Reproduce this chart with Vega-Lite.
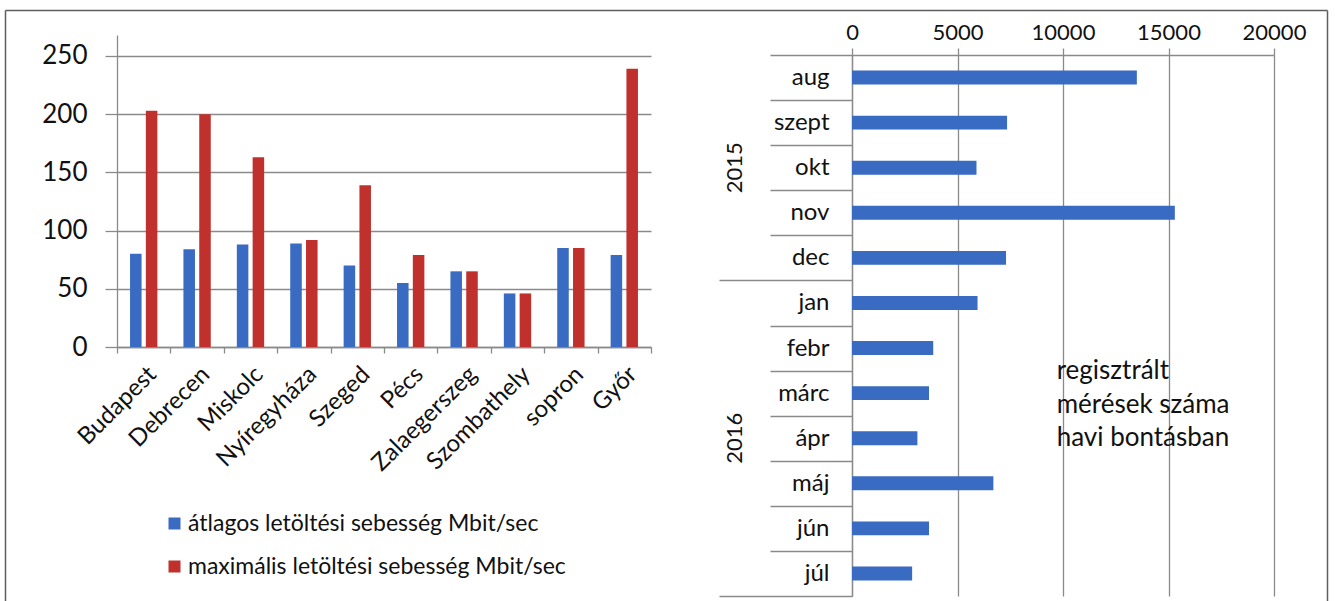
{
  "$schema": "https://vega.github.io/schema/vega-lite/v6.json",
  "background": "white",
  "padding": {"left": 5, "top": 10, "right": 5, "bottom": 4},
  "config": {
    "font": "Lato",
    "view": {"stroke": null},
    "axis": {
      "labelFont": "Lato",
      "labelColor": "#111111",
      "domainColor": "#8a8a8a",
      "tickColor": "#8a8a8a",
      "gridColor": "#8a8a8a",
      "gridOpacity": 1,
      "domainWidth": 1.3,
      "tickWidth": 1.3,
      "gridWidth": 1.3
    }
  },
  "datasets": {
    "speeds": [
      {"city": "Budapest", "series": "átlagos letöltési sebesség Mbit/sec", "value": 80},
      {"city": "Budapest", "series": "maximális letöltési sebesség Mbit/sec", "value": 203},
      {"city": "Debrecen", "series": "átlagos letöltési sebesség Mbit/sec", "value": 84},
      {"city": "Debrecen", "series": "maximális letöltési sebesség Mbit/sec", "value": 200},
      {"city": "Miskolc", "series": "átlagos letöltési sebesség Mbit/sec", "value": 88},
      {"city": "Miskolc", "series": "maximális letöltési sebesség Mbit/sec", "value": 163},
      {"city": "Nyíregyháza", "series": "átlagos letöltési sebesség Mbit/sec", "value": 89},
      {"city": "Nyíregyháza", "series": "maximális letöltési sebesség Mbit/sec", "value": 92},
      {"city": "Szeged", "series": "átlagos letöltési sebesség Mbit/sec", "value": 70},
      {"city": "Szeged", "series": "maximális letöltési sebesség Mbit/sec", "value": 139},
      {"city": "Pécs", "series": "átlagos letöltési sebesség Mbit/sec", "value": 55},
      {"city": "Pécs", "series": "maximális letöltési sebesség Mbit/sec", "value": 79},
      {"city": "Zalaegerszeg", "series": "átlagos letöltési sebesség Mbit/sec", "value": 65},
      {"city": "Zalaegerszeg", "series": "maximális letöltési sebesség Mbit/sec", "value": 65},
      {"city": "Szombathely", "series": "átlagos letöltési sebesség Mbit/sec", "value": 46},
      {"city": "Szombathely", "series": "maximális letöltési sebesség Mbit/sec", "value": 46},
      {"city": "sopron", "series": "átlagos letöltési sebesség Mbit/sec", "value": 85},
      {"city": "sopron", "series": "maximális letöltési sebesség Mbit/sec", "value": 85},
      {"city": "Győr", "series": "átlagos letöltési sebesség Mbit/sec", "value": 79},
      {"city": "Győr", "series": "maximális letöltési sebesség Mbit/sec", "value": 239}
    ],
    "monthly": [
      {"year": "2015", "month": "aug", "count": 13500},
      {"year": "2015", "month": "szept", "count": 7350},
      {"year": "2015", "month": "okt", "count": 5900},
      {"year": "2015", "month": "nov", "count": 15300},
      {"year": "2015", "month": "dec", "count": 7300},
      {"year": "2016", "month": "jan", "count": 5950},
      {"year": "2016", "month": "febr", "count": 3850},
      {"year": "2016", "month": "márc", "count": 3650},
      {"year": "2016", "month": "ápr", "count": 3100},
      {"year": "2016", "month": "máj", "count": 6700},
      {"year": "2016", "month": "jún", "count": 3650},
      {"year": "2016", "month": "júl", "count": 2850}
    ],
    "frame": [{"edge": 0}]
  },
  "bounds": "flush",
  "spacing": 201,
  "hconcat": [
    {
      "width": 534,
      "height": 292,
      "layer": [
        {
          "data": {"name": "speeds"},
          "mark": {"type": "bar"},
          "encoding": {
            "x": {
              "field": "city",
              "type": "nominal",
              "sort": null,
              "scale": {"paddingInner": 0, "paddingOuter": 0},
              "axis": {
                "title": null,
                "tickBand": "extent",
                "tickSize": 6,
                "labelAngle": -45,
                "labelFontSize": 24,
                "labelPadding": 9,
                "labelLimit": 0
              }
            },
            "xOffset": {
              "field": "series",
              "type": "nominal",
              "sort": null,
              "scale": {"paddingInner": 0.27, "paddingOuter": 0.825}
            },
            "y": {
              "field": "value",
              "type": "quantitative",
              "scale": {"domain": [0, 268], "range": [292, -20], "nice": false, "zero": true},
              "axis": {
                "title": null,
                "values": [0, 50, 100, 150, 200, 250],
                "grid": true,
                "tickSize": 12,
                "labelFontSize": 26,
                "labelPadding": 18
              }
            },
            "color": {
              "field": "series",
              "type": "nominal",
              "sort": null,
              "scale": {"range": ["#3a6bc2", "#c0312d"]},
              "legend": {
                "title": null,
                "orient": "none",
                "legendX": 46,
                "legendY": 457,
                "symbolType": "square",
                "symbolSize": 144,
                "symbolStrokeWidth": 0,
                "labelFont": "Lato",
                "labelFontSize": 23,
                "labelColor": "#111111",
                "labelOffset": 2,
                "labelLimit": 0,
                "rowPadding": 19,
                "padding": 0
              }
            }
          }
        },
        {
          "data": {"name": "frame"},
          "mark": {"type": "text", "text": ""},
          "encoding": {
            "x": {
              "field": "edge",
              "type": "quantitative",
              "scale": {"domain": [0, 1], "range": [-112, 1210], "nice": false, "zero": false},
              "axis": {"orient": "top", "offset": 45, "title": null, "ticks": false, "labels": false, "grid": false, "domainColor": "#5e5e5e", "domainWidth": 1.5}
            },
            "y": {
              "field": "edge",
              "type": "quantitative",
              "scale": {"domain": [0, 1], "range": [600, -45], "nice": false, "zero": false},
              "axis": {"orient": "left", "offset": 112, "title": null, "ticks": false, "labels": false, "grid": false, "domainColor": "#5e5e5e", "domainWidth": 1.5}
            }
          }
        },
        {
          "data": {"name": "frame"},
          "mark": {"type": "text", "text": ""},
          "encoding": {
            "y": {
              "field": "edge",
              "type": "quantitative",
              "scale": {"domain": [0, 1], "range": [600, -45], "nice": false, "zero": false},
              "axis": {"orient": "right", "offset": 676, "title": null, "ticks": false, "labels": false, "grid": false, "domainColor": "#5e5e5e", "domainWidth": 1.5}
            }
          }
        }
      ],
      "resolve": {"scale": {"x": "independent", "y": "independent"}}
    },
    {
      "width": 422,
      "height": 541,
      "layer": [
        {
          "data": {"name": "monthly"},
          "mark": {"type": "bar", "color": "#3a6bc2", "height": {"band": 0.31}},
          "encoding": {
            "y": {
              "field": "month",
              "type": "nominal",
              "sort": null,
              "scale": {
                "domain": ["aug", "szept", "okt", "nov", "dec", "jan", "febr", "márc", "ápr", "máj", "jún", "júl"],
                "paddingInner": 0,
                "paddingOuter": 0
              },
              "axis": {
                "title": null,
                "orient": "left",
                "tickBand": "extent",
                "tickSize": {
                  "condition": {"test": "datum.value === 'dec' || datum.value === 'júl'", "value": 133},
                  "value": 82
                },
                "labelAlign": "right",
                "labelBaseline": "middle",
                "labelPadding": {
                  "condition": {"test": "datum.value === 'dec' || datum.value === 'júl'", "value": -110},
                  "value": -59
                },
                "labelFontSize": 24,
                "grid": false
              }
            },
            "x": {
              "field": "count",
              "type": "quantitative",
              "scale": {"domain": [0, 20000], "nice": false},
              "axis": {
                "title": null,
                "orient": "top",
                "values": [0, 5000, 10000, 15000, 20000],
                "format": "d",
                "grid": true,
                "tickSize": 7,
                "labelFontSize": 22,
                "labelPadding": 4,
                "labelFlush": false
              }
            }
          }
        },
        {
          "data": {"values": [{"month": "márc", "note": "regisztrált\nmérések száma\nhavi bontásban"}]},
          "mark": {
            "type": "text",
            "align": "left",
            "baseline": "middle",
            "fontSize": 26,
            "lineHeight": 33.5,
            "lineBreak": "\n",
            "color": "#111111",
            "dy": -22
          },
          "encoding": {
            "text": {"field": "note"},
            "x": {"datum": 9700, "type": "quantitative"},
            "y": {
              "field": "month",
              "type": "nominal",
              "axis": {
                "title": null,
                "orient": "left",
                "values": ["okt", "ápr"],
                "labelExpr": "datum.value === 'okt' ? '2015' : '2016'",
                "ticks": false,
                "domain": false,
                "grid": false,
                "labelAngle": 270,
                "labelAlign": "center",
                "labelBaseline": "middle",
                "labelPadding": 118,
                "labelFontSize": 22
              }
            }
          }
        }
      ],
      "resolve": {"axis": {"y": "independent"}}
    }
  ]
}
